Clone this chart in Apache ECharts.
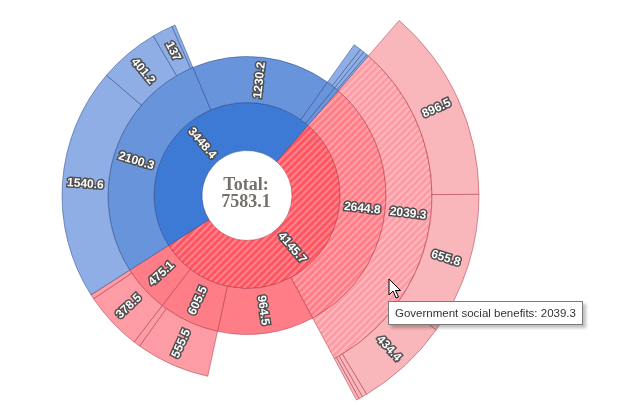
<!DOCTYPE html>
<html>
<head>
<meta charset="utf-8">
<script src="https://cdn.jsdelivr.net/npm/echarts@6/dist/echarts.min.js"></script>
<style>
html,body{margin:0;padding:0;background:#ffffff;}
#chart{width:640px;height:405px;}
</style>
</head>
<body>
<div id="chart"></div>
<script>
// ---------------- data ----------------
const totalLabel = 7583.1;

const topNames = ['Current expenditures', 'Current receipts'];
const topValues = [4145.7, 3448.4];

const expenditureNames = ['Current transfer payments', 'Consumption expenditures', 'Interest payments', 'Subsidies and other payments'];
const expenditureValues = [2644.8, 964.5, 605.5, 475.1];

const transferNames = ['Government social benefits'];
const transferValues = [2039.3];

const benefitNames = ['Social security', 'Medicare', 'Medicaid', 'Veterans benefits', 'Unemployment insurance', 'Other benefits'];
const benefitValues = [896.5, 655.8, 434.4, 22.4, 17.1, 13.1];

const interestNames = ['To persons and business', 'To the rest of the world'];
const interestValues = [555.5, 50.0];

const otherPayNames = ['Subsidies', 'Other payments'];
const otherPayValues = [378.5, 30.2];

const receiptNames = ['Current tax receipts', 'Contributions for government social insurance', 'Current transfer receipts', 'Income receipts on assets'];
const receiptValues = [2100.3, 1230.2, 79.3, 38.6];

const taxNames = ['Personal current taxes', 'Taxes on corporate income', 'Taxes on production and imports', 'Taxes from the rest of the world'];
const taxValues = [1540.6, 401.2, 137.0, 21.5];

const transferReceiptNames = ['From business', 'From persons'];
const transferReceiptValues = [51.8, 27.5];

const assetNames = ['Interest receipts', 'Rents and royalties'];
const assetValues = [26.5, 12.1];

const hoverPath = ['Current expenditures', 'Current transfer payments', 'Government social benefits'];

// ---------------- tree ----------------
function nodes(names, values, kids) {
  return names.map((n, i) => ({ name: n, value: values[i], children: kids && kids[i] ? kids[i] : null }));
}
const benefits = nodes(benefitNames, benefitValues);
const transfers = nodes(transferNames, transferValues, [benefits]);
const interest = nodes(interestNames, interestValues);
const otherPay = nodes(otherPayNames, otherPayValues);
const expenditures = nodes(expenditureNames, expenditureValues, [transfers, null, interest, otherPay]);
const taxes = nodes(taxNames, taxValues);
const trRec = nodes(transferReceiptNames, transferReceiptValues);
const assets = nodes(assetNames, assetValues);
const receipts = nodes(receiptNames, receiptValues, [taxes, null, trRec, assets]);
const tree = nodes(topNames, topValues, [expenditures, receipts]);

// angular layout: children share the angle of their parent
const items = [];
function layout(list, level, branch, a0, span) {
  const sum = list.reduce((s, n) => s + n.value, 0);
  let a = a0;
  list.forEach((n, i) => {
    const w = span * n.value / sum;
    const br = level === 1 ? i : branch;
    items.push({ name: n.name, value: [level, a, a + w, n.value], branch: br });
    if (n.children) layout(n.children, level + 1, br, a, w);
    a += w;
  });
}
const START = 41;
layout(tree, 1, 0, START, 360);

// ---------------- styles ----------------
const RING_R = [45, 93, 139, 185, 232];
const palettes = [
  ['#ff5561', '#ff7d87', '#fd9ca4', '#f9b6bb'],   // expenditures
  ['#3d7ad6', '#6894db', '#8eaee5', '#b0c7ed']    // receipts
];
const strokes = ['rgba(170,50,65,0.5)', 'rgba(40,70,135,0.5)'];

function hatch(base) {
  const s = 7;
  const c = document.createElement('canvas');
  c.width = s; c.height = s;
  const g = c.getContext('2d');
  g.fillStyle = base; g.fillRect(0, 0, s, s);
  g.strokeStyle = 'rgba(255,255,255,0.28)';
  g.lineWidth = 2;
  g.beginPath();
  g.moveTo(-1, s + 1); g.lineTo(s + 1, -1);
  g.moveTo(-1, 1); g.lineTo(1, -1);
  g.moveTo(s - 1, s + 1); g.lineTo(s + 1, s - 1);
  g.stroke();
  return { image: c, repeat: 'repeat' };
}

const LABEL_FONT = 'bold 12px "Liberation Sans"';

function renderItem(params, api) {
  const it = items[params.dataIndex];
  const cs = params.coordSys;
  const cx = cs.cx, cy = cs.cy;
  const lvl = api.value(0), a0 = api.value(1), a1 = api.value(2);
  const pIn = api.coord([RING_R[lvl - 1], a0]);
  const pOut = api.coord([RING_R[lvl], a0]);
  const pEnd = api.coord([RING_R[lvl], a1]);
  const r0 = Math.hypot(pIn[0] - cx, pIn[1] - cy);
  const r = Math.hypot(pOut[0] - cx, pOut[1] - cy);
  const sa = Math.atan2(pOut[1] - cy, pOut[0] - cx);
  let ea = Math.atan2(pEnd[1] - cy, pEnd[0] - cx);
  while (ea < sa) ea += Math.PI * 2;
  const base = palettes[it.branch][lvl - 1];
  const fill = hoverPath.indexOf(it.name) >= 0 ? hatch(base) : base;
  const children = [{
    type: 'sector',
    shape: { cx: cx, cy: cy, r0: r0, r: r, startAngle: sa, endAngle: ea, clockwise: true },
    style: { fill: fill, stroke: strokes[it.branch], lineWidth: 1 }
  }];
  if ((a1 - a0) >= 5) {
    const mid = (sa + ea) / 2;
    const rm = (r0 + r) / 2;
    let rot = -mid;
    while (rot > Math.PI) rot -= 2 * Math.PI;
    while (rot <= -Math.PI) rot += 2 * Math.PI;
    if (rot > Math.PI / 2) rot -= Math.PI;
    else if (rot < -Math.PI / 2) rot += Math.PI;
    const lx = cx + rm * Math.cos(mid), ly = cy + rm * Math.sin(mid);
    const txt = String(api.value(3));
    children.push({
      type: 'text', x: lx, y: ly, rotation: rot, z2: 10, silent: true,
      style: { text: txt, fill: '#4f4f4f', stroke: '#4f4f4f', lineWidth: 3, font: LABEL_FONT, align: 'center', verticalAlign: 'middle' }
    });
    children.push({
      type: 'text', x: lx, y: ly, rotation: rot, z2: 11, silent: true,
      style: { text: txt, fill: '#ffffff', font: LABEL_FONT, align: 'center', verticalAlign: 'middle' }
    });
  }
  return { type: 'group', children: children };
}

const chart = echarts.init(document.getElementById('chart'), null, { renderer: 'canvas' });
const hoverIndex = items.findIndex(d => d.name === 'Government social benefits');

chart.setOption({
  animation: false,
  backgroundColor: '#ffffff',
  polar: { center: [247, 195.5], radius: [0, 232] },
  angleAxis: { type: 'value', min: 0, max: 360, startAngle: 90, clockwise: true, show: false },
  radiusAxis: { type: 'value', min: 0, max: 232, show: false },
  tooltip: {
    trigger: 'item',
    triggerOn: 'none',
    alwaysShowContent: true,
    transitionDuration: 0,
    position: [388, 301],
    backgroundColor: '#ffffff',
    borderColor: '#7a7a7a',
    borderWidth: 1,
    padding: [4, 6, 4, 6],
    textStyle: { fontFamily: 'Liberation Sans', fontSize: 11.5, color: '#333333' },
    extraCssText: 'border-radius:0;box-shadow:3px 3px 3px rgba(0,0,0,0.25);line-height:14px;',
    formatter: p => p.name + ': ' + p.value[3]
  },
  series: [{
    type: 'custom',
    coordinateSystem: 'polar',
    renderItem: renderItem,
    data: items.map(d => ({ name: d.name, value: d.value }))
  }],
  graphic: [
    {
      type: 'text', x: 246, y: 194, z: 100,
      style: {
        text: 'Total:\n' + totalLabel,
        align: 'center', verticalAlign: 'middle',
        font: 'bold 18px "Liberation Serif"',
        lineHeight: 17,
        fill: '#77706a'
      }
    },
    {
      type: 'polygon', z: 100,
      shape: { points: [[389, 279], [389, 295], [393, 291], [396, 298], [398.5, 297], [395.5, 290.5], [400.5, 290.5]] },
      style: { fill: '#ffffff', stroke: '#000000', lineWidth: 1 }
    }
  ]
});
chart.dispatchAction({ type: 'showTip', seriesIndex: 0, dataIndex: hoverIndex });
</script>
</body>
</html>
